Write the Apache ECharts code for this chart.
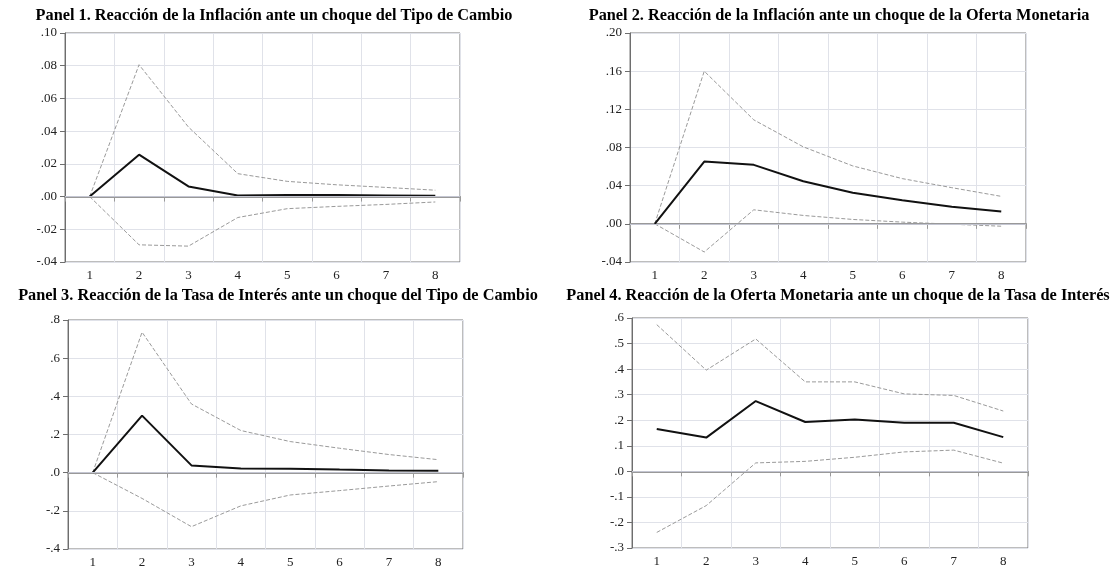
<!DOCTYPE html>
<html>
<head>
<meta charset="utf-8">
<script src="https://cdn.jsdelivr.net/npm/echarts@6/dist/echarts.min.js"></script>
<style>
html,body{margin:0;padding:0;background:#fff;}
#chart{width:1110px;height:569px;}
</style>
</head>
<body>
<div id="chart"></div>
<script>
const categories = ['1','2','3','4','5','6','7','8'];

const titles = [
  'Panel 1. Reacción de la Inflación ante un choque del Tipo de Cambio',
  'Panel 2. Reacción de la Inflación ante un choque de la Oferta Monetaria',
  'Panel 3. Reacción de la Tasa de Interés ante un choque del Tipo de Cambio',
  'Panel 4. Reacción de la Oferta Monetaria ante un choque de la Tasa de Interés'
];

// Panel 1
const p1Mean  = [0, 0.0256, 0.0062, 0.0007, 0.0009, 0.0009, 0.0007, 0.0005];
const p1Upper = [0, 0.0806, 0.0425, 0.0140, 0.0093, 0.0072, 0.0056, 0.0039];
const p1Lower = [0, -0.0295, -0.0303, -0.0128, -0.0074, -0.0060, -0.0048, -0.0033];
// Panel 2
const p2Mean  = [0, 0.0653, 0.0618, 0.0446, 0.0326, 0.0246, 0.0179, 0.0130];
const p2Upper = [0, 0.1600, 0.1090, 0.0807, 0.0607, 0.0474, 0.0379, 0.0288];
const p2Lower = [0, -0.0295, 0.0147, 0.0088, 0.0046, 0.0018, -0.0004, -0.0025];
// Panel 3
const p3Mean  = [0, 0.299, 0.038, 0.022, 0.021, 0.016, 0.012, 0.010];
const p3Upper = [0, 0.736, 0.360, 0.221, 0.163, 0.128, 0.095, 0.068];
const p3Lower = [0, -0.135, -0.283, -0.174, -0.117, -0.094, -0.070, -0.047];
// Panel 4
const p4Mean  = [0.166, 0.132, 0.275, 0.193, 0.203, 0.190, 0.190, 0.134];
const p4Upper = [0.574, 0.396, 0.518, 0.350, 0.350, 0.303, 0.297, 0.236];
const p4Lower = [-0.239, -0.134, 0.033, 0.039, 0.055, 0.076, 0.083, 0.032];

// y-axis ranges: [min, max, interval, decimals]
const yAxes = [
  [-0.04, 0.10, 0.02, 2],
  [-0.04, 0.20, 0.04, 2],
  [-0.4, 0.8, 0.2, 1],
  [-0.3, 0.6, 0.1, 1]
];

const panels = [
  [p1Mean, p1Upper, p1Lower],
  [p2Mean, p2Upper, p2Lower],
  [p3Mean, p3Upper, p3Lower],
  [p4Mean, p4Upper, p4Lower]
];

const gridPos = [
  {left: 65, top: 33, width: 395, height: 229},
  {left: 630, top: 33, width: 396, height: 229},
  {left: 68, top: 320, width: 395, height: 230},
  {left: 632, top: 318, width: 396, height: 230}
];
const titlePos = [
  {x: 274, y: 8},
  {x: 839, y: 8},
  {x: 278, y: 288},
  {x: 838, y: 288}
];

function fmt(dec) {
  return function (v) {
    let s = Math.abs(v).toFixed(dec);
    if (s.charAt(0) === '0') s = s.slice(1);
    return (v < -1e-9 ? '-' : '') + s;
  };
}

const serif = '"Liberation Serif", "DejaVu Serif", serif';

const option = {
  animation: false,
  backgroundColor: '#fff',
  title: titles.map((t, i) => ({
    text: t,
    left: titlePos[i].x,
    top: titlePos[i].y,
    textAlign: 'center',
    padding: 0,
    textStyle: {fontFamily: serif, fontWeight: 'bold', fontSize: 16.3, color: '#000'}
  })),
  grid: gridPos.map(g => Object.assign({show: true, borderColor: '#7a7a7a', borderWidth: 1, backgroundColor: 'transparent'}, g)),
  xAxis: gridPos.map((g, i) => ({
    type: 'category',
    gridIndex: i,
    data: categories,
    boundaryGap: true,
    axisLine: {show: true, lineStyle: {color: '#999', width: 2}},
    axisTick: {show: true, length: 5, lineStyle: {color: '#999'}},
    axisLabel: {fontFamily: serif, fontSize: 13, color: '#222', margin: 7},
    splitLine: {show: true, lineStyle: {color: '#e0e2e9', width: 1}}
  })),
  yAxis: yAxes.map((y, i) => ({
    type: 'value',
    gridIndex: i,
    min: y[0], max: y[1], interval: y[2],
    axisLine: {show: true, lineStyle: {color: '#6e6e6e', width: 1}},
    axisTick: {show: true, length: 5, lineStyle: {color: '#6e6e6e'}},
    axisLabel: {fontFamily: serif, fontSize: 13, color: '#222', margin: 8, formatter: fmt(y[3])},
    splitLine: {show: true, lineStyle: {color: '#e0e2e9', width: 1}}
  })),
  series: []
};

panels.forEach((p, i) => {
  option.series.push({
    type: 'line', xAxisIndex: i, yAxisIndex: i, data: p[1], symbol: 'none', z: 3,
    lineStyle: {color: '#9a9a9a', width: 1, type: [4, 2]},
    markLine: {
      silent: true, symbol: 'none', label: {show: false},
      lineStyle: {color: '#c4c6d2', width: 1, type: 'solid'},
      data: [{yAxis: 0}]
    }
  });
  option.series.push({
    type: 'line', xAxisIndex: i, yAxisIndex: i, data: p[2], symbol: 'none', z: 3,
    lineStyle: {color: '#9a9a9a', width: 1, type: [4, 2]}
  });
  option.series.push({
    type: 'line', xAxisIndex: i, yAxisIndex: i, data: p[0], symbol: 'none', z: 4,
    lineStyle: {color: '#111', width: 2}
  });
});

const chart = echarts.init(document.getElementById('chart'), null, {renderer: 'canvas'});
chart.setOption(option);
</script>
</body>
</html>
